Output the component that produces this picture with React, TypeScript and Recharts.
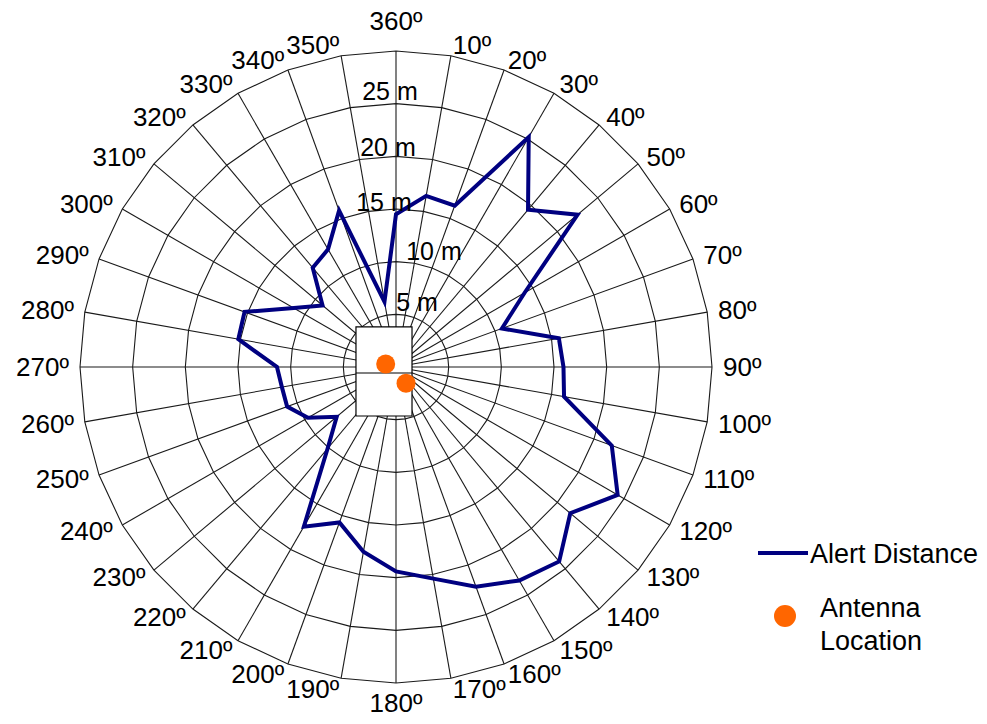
import React from "react";
import {
  RadarChart,
  Radar,
  PolarGrid,
  PolarAngleAxis,
  PolarRadiusAxis,
  Legend,
  ScatterChart,
  Scatter,
  XAxis,
  YAxis,
  ReferenceArea,
  ReferenceLine,
} from "recharts";

// bearings, clockwise from north
const angleLabels = [
  "360º", "10º", "20º", "30º", "40º", "50º", "60º", "70º", "80º",
  "90º", "100º", "110º", "120º", "130º", "140º", "150º", "160º", "170º",
  "180º", "190º", "200º", "210º", "220º", "230º", "240º", "250º", "260º",
  "270º", "280º", "290º", "300º", "310º", "320º", "330º", "340º", "350º",
];

// alert distance in metres for each bearing
const alertDistance = [
  14.5, 16.5, 16.3, 25.2, 19.5, 22.5, 14.1, 10.7, 15.7,
  15.9, 16.2, 21.8, 24.3, 21.6, 24.1, 23.4, 22.2, 20.4,
  19.4, 17.8, 15.7, 17.5, 10.1, 7.35, 9.65, 11.0, 11.0,
  11.3, 15.2, 15.3, 11.2, 9.1, 12.3, 12.9, 15.8, 6.3,
];

const radiusTicks = [0, 5, 10, 15, 20, 25, 30];

// antenna positions, metres east / north of the centre
const antennaX = [-0.98, 0.95];
const antennaY = [0.28, -1.55];

// outline of the building around the centre (metres)
const boxX = [-3.8, 1.52];
const boxY = [-4.65, 3.8];
const boxDivider = -0.57;

const W = 987;
const H = 724;
const CX = 396;
const CY = 367;
const R = 316;
const FONT = '"Liberation Sans", Arial, sans-serif';
const NAVY = "#000080";
const ORANGE = "#FF6600";

const radarData = angleLabels.map((label, i) => ({
  label,
  distance: alertDistance[i],
}));

const antennaData = antennaX.map((x, i) => ({ x, y: antennaY[i] }));

// label nudges for the radius axis, by tick value
const radiusLabelShift: Record<number, [number, number]> = {
  5: [21, -3],
  10: [38, -2],
  15: [-12, 2],
  20: [-8, 0],
  25: [-6, -4],
};

function AngleTick(props: any) {
  const { x, y, payload } = props;
  const rad = (payload.coordinate * Math.PI) / 180;
  const c = Math.cos(rad);
  const s = Math.sin(rad);
  let anchor: "start" | "end" | "middle" = "middle";
  if (c > 0.01) anchor = "start";
  else if (c < -0.01) anchor = "end";
  let dy = 0;
  if (anchor === "middle") dy = s > 0 ? -19 : 9;
  return (
    <text
      x={x}
      y={y + dy}
      textAnchor={anchor}
      dominantBaseline="central"
      fontSize={26}
      fontFamily={FONT}
      fill="#000"
    >
      {payload.value}
    </text>
  );
}

function RadiusTick(props: any) {
  const { x, y, payload } = props;
  const shift = radiusLabelShift[payload.value];
  if (!shift) return <g />;
  return (
    <text
      x={x + shift[0]}
      y={y + shift[1]}
      textAnchor="middle"
      fontSize={25}
      fontFamily={FONT}
      fill="#000"
    >
      {payload.value} m
    </text>
  );
}

function renderLegend() {
  return (
    <svg width={237} height={140} style={{ fontFamily: FONT }}>
      <line x1={8} x2={58} y1={23} y2={23} stroke={NAVY} strokeWidth={4} />
      <text x={60} y={33} fontSize={27} fill="#000">
        Alert Distance
      </text>
      <circle cx={35} cy={86} r={11} fill={ORANGE} />
      <text x={70} y={87} fontSize={27} fill="#000">
        Antenna
      </text>
      <text x={70} y={120} fontSize={27} fill="#000">
        Location
      </text>
    </svg>
  );
}

export default function App() {
  return (
    <div
      style={{
        position: "relative",
        width: W,
        height: H,
        margin: -8,
        background: "#fff",
      }}
    >
      <RadarChart
        width={W}
        height={H}
        cx={CX}
        cy={CY}
        outerRadius={R}
        data={radarData}
        margin={{ top: 0, right: 0, bottom: 0, left: 0 }}
      >
        <PolarGrid gridType="polygon" stroke="#1a1a1a" strokeWidth={1.1} />
        <PolarAngleAxis
          dataKey="label"
          tickSize={11}
          tickLine={false}
          axisLine={false}
          tick={<AngleTick />}
        />
        <PolarRadiusAxis
          angle={90}
          domain={[0, 30]}
          ticks={radiusTicks as any}
          tickCount={7}
          axisLine={false}
          tickLine={false}
          tick={<RadiusTick />}
        />
        <Radar
          dataKey="distance"
          stroke={NAVY}
          strokeWidth={4}
          fill="none"
          fillOpacity={0}
          dot={false}
          isAnimationActive={false}
        />
        <Legend
          content={renderLegend}
          wrapperStyle={{ position: "absolute", left: 750, top: 530, width: 237 }}
        />
      </RadarChart>
      <div style={{ position: "absolute", left: 0, top: 0 }}>
        <ScatterChart
          width={W}
          height={H}
          margin={{ top: CY - R, right: W - CX - R, bottom: H - CY - R, left: CX - R }}
        >
          <XAxis type="number" dataKey="x" domain={[-30, 30]} allowDataOverflow hide />
          <YAxis type="number" dataKey="y" domain={[-30, 30]} allowDataOverflow hide />
          <ReferenceArea
            x1={boxX[0]}
            x2={boxX[1]}
            y1={boxY[0]}
            y2={boxY[1]}
            fill="#fff"
            fillOpacity={1}
            stroke="#000"
            strokeWidth={1.2}
          />
          <ReferenceLine
            segment={[
              { x: boxX[0], y: boxDivider },
              { x: boxX[1], y: boxDivider },
            ]}
            stroke="#000"
            strokeWidth={1.2}
          />
          <Scatter
            data={antennaData}
            isAnimationActive={false}
            shape={(p: any) => <circle cx={p.cx} cy={p.cy} r={9.5} fill={ORANGE} />}
          />
        </ScatterChart>
      </div>
    </div>
  );
}
